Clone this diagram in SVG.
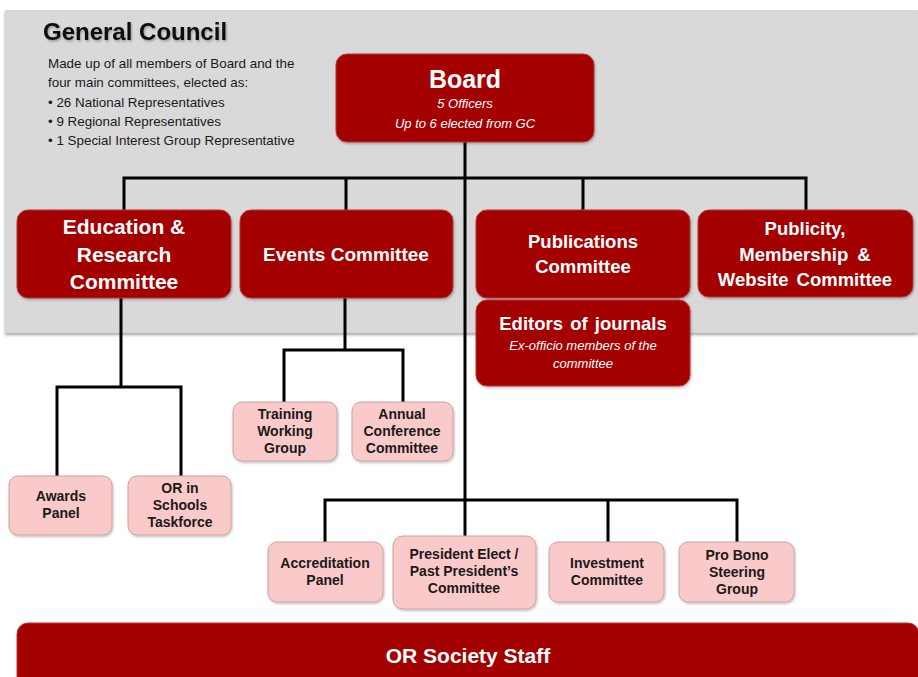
<svg xmlns="http://www.w3.org/2000/svg" width="918" height="677" viewBox="0 0 918 677">
  <defs>
    <filter id="shadow" x="-5%" y="-5%" width="110%" height="120%">
      <feDropShadow dx="0" dy="2" stdDeviation="1.5" flood-color="#000" flood-opacity="0.35"/>
    </filter>
    <filter id="soft" x="-5%" y="-10%" width="110%" height="130%">
      <feDropShadow dx="1" dy="1.5" stdDeviation="1.2" flood-color="#000" flood-opacity="0.25"/>
    </filter>
    <filter id="titleGlow" x="-5%" y="-20%" width="110%" height="140%">
      <feDropShadow dx="1" dy="1.5" stdDeviation="1" flood-color="#000" flood-opacity="0.3"/>
    </filter>
  </defs>
  <style>
    .panel { fill: #d9d9d9; }
    .red { fill: #a50000; stroke: #b33a3a; stroke-width: 1; }
    .pink { fill: #fac9c9; stroke: #c8a4a4; stroke-width: 1; }
    .link { fill: none; stroke: #000; stroke-width: 3; stroke-linecap: square; }
    text { font-family: "Liberation Sans", Arial, sans-serif; text-anchor: middle; }
    .h1 { font-weight: bold; fill: #fff; }
    .sub { font-style: italic; fill: #fff; font-size: 13px; }
    .sm { font-weight: bold; fill: #1a1a1a; font-size: 14px; }
    .note { font-size: 13.4px; fill: #1a1a1a; text-anchor: start; }
  </style>

  <rect width="918" height="677" fill="#ffffff"/>

  <!-- General Council panel -->
  <g id="general-council">
    <rect class="panel" x="5" y="10" width="913" height="323" filter="url(#shadow)"/>
    <text x="43" y="40" style="text-anchor:start;font-weight:bold;font-size:24px;fill:#111" filter="url(#titleGlow)">General Council</text>
    <text class="note" x="48" y="68">Made up of all members of Board and the</text>
    <text class="note" x="48" y="87">four main committees, elected as:</text>
    <text class="note" x="48" y="107">• 26 National Representatives</text>
    <text class="note" x="48" y="126">• 9 Regional Representatives</text>
    <text class="note" x="48" y="145">• 1 Special Interest Group Representative</text>
  </g>

  <!-- Connectors -->
  <g id="connectors">
    <path class="link" d="M465 142 V500"/>
    <path class="link" d="M124 178 H806 M124 178 V210 M346 178 V210 M583 178 V210 M806 178 V210"/>
    <path class="link" d="M121 298 V387 M57 387 H181 M57 387 V476 M181 387 V476"/>
    <path class="link" d="M345 298 V350 M284 350 H403 M284 350 V402 M403 350 V402"/>
    <path class="link" d="M325 500 H737 M325 500 V542 M608 500 V542 M737 500 V542 M465 500 V536"/>
  </g>

  <g id="board">
    <rect class="red" x="336" y="54" width="258" height="88" rx="11" filter="url(#soft)"/>
    <text class="h1" x="465" y="88" font-size="25">Board</text>
    <text class="sub" x="465" y="108">5 Officers</text>
    <text class="sub" x="465" y="128">Up to 6 elected from GC</text>
  </g>

  <g id="education-research">
    <rect class="red" x="17" y="210" width="214" height="88" rx="11" filter="url(#soft)"/>
    <text class="h1" x="124" y="234" font-size="21">Education &amp;</text>
    <text class="h1" x="124" y="262" font-size="21">Research</text>
    <text class="h1" x="124" y="289" font-size="21">Committee</text>
  </g>

  <g id="events">
    <rect class="red" x="240" y="210" width="213" height="88" rx="11" filter="url(#soft)"/>
    <text class="h1" x="346" y="261" font-size="19">Events Committee</text>
  </g>

  <g id="publications">
    <rect class="red" x="476" y="210" width="214" height="88" rx="11" filter="url(#soft)"/>
    <text class="h1" x="583" y="248" font-size="18.5">Publications</text>
    <text class="h1" x="583" y="273" font-size="18.5">Committee</text>
  </g>

  <g id="publicity">
    <rect class="red" x="698" y="210" width="215" height="87" rx="11" filter="url(#soft)"/>
    <text class="h1" x="805" y="235" font-size="18.5">Publicity,</text>
    <text class="h1" x="805" y="261" font-size="18.5" word-spacing="4">Membership &amp;</text>
    <text class="h1" x="805" y="286" font-size="18.5" word-spacing="3">Website Committee</text>
  </g>

  <g id="editors">
    <rect class="red" x="476" y="300" width="214" height="86" rx="11" filter="url(#soft)"/>
    <text class="h1" x="583" y="330" font-size="18.5" word-spacing="2">Editors of journals</text>
    <text class="sub" x="583" y="350" font-size="13.5">Ex-officio members of the</text>
    <text class="sub" x="583" y="368" font-size="13.5">committee</text>
  </g>

  <g id="training">
    <rect class="pink" x="233" y="402" width="104" height="59" rx="9" filter="url(#soft)"/>
    <text class="sm" x="285" y="419">Training</text>
    <text class="sm" x="285" y="436">Working</text>
    <text class="sm" x="285" y="453">Group</text>
  </g>

  <g id="annual-conference">
    <rect class="pink" x="352" y="402" width="101" height="59" rx="9" filter="url(#soft)"/>
    <text class="sm" x="402" y="419">Annual</text>
    <text class="sm" x="402" y="436">Conference</text>
    <text class="sm" x="402" y="453">Committee</text>
  </g>

  <g id="awards">
    <rect class="pink" x="9" y="476" width="103" height="59" rx="9" filter="url(#soft)"/>
    <text class="sm" x="61" y="501">Awards</text>
    <text class="sm" x="61" y="518">Panel</text>
  </g>

  <g id="or-in-schools">
    <rect class="pink" x="128" y="476" width="103" height="59" rx="9" filter="url(#soft)"/>
    <text class="sm" x="180" y="493">OR in</text>
    <text class="sm" x="180" y="510">Schools</text>
    <text class="sm" x="180" y="527">Taskforce</text>
  </g>

  <g id="accreditation">
    <rect class="pink" x="268" y="542" width="115" height="60" rx="9" filter="url(#soft)"/>
    <text class="sm" x="325" y="568">Accreditation</text>
    <text class="sm" x="325" y="585">Panel</text>
  </g>

  <g id="president">
    <rect class="pink" x="393" y="536" width="143" height="73" rx="10" filter="url(#soft)"/>
    <text class="sm" x="464" y="559">President Elect /</text>
    <text class="sm" x="464" y="576">Past President’s</text>
    <text class="sm" x="464" y="593">Committee</text>
  </g>

  <g id="investment">
    <rect class="pink" x="549" y="542" width="115" height="60" rx="9" filter="url(#soft)"/>
    <text class="sm" x="607" y="568">Investment</text>
    <text class="sm" x="607" y="585">Committee</text>
  </g>

  <g id="pro-bono">
    <rect class="pink" x="679" y="542" width="115" height="60" rx="9" filter="url(#soft)"/>
    <text class="sm" x="737" y="560">Pro Bono</text>
    <text class="sm" x="737" y="577">Steering</text>
    <text class="sm" x="737" y="594">Group</text>
  </g>

  <g id="staff">
    <rect class="red" x="17" y="623" width="902" height="70" rx="11"/>
    <text class="h1" x="468" y="663" font-size="21">OR Society Staff</text>
  </g>
</svg>
